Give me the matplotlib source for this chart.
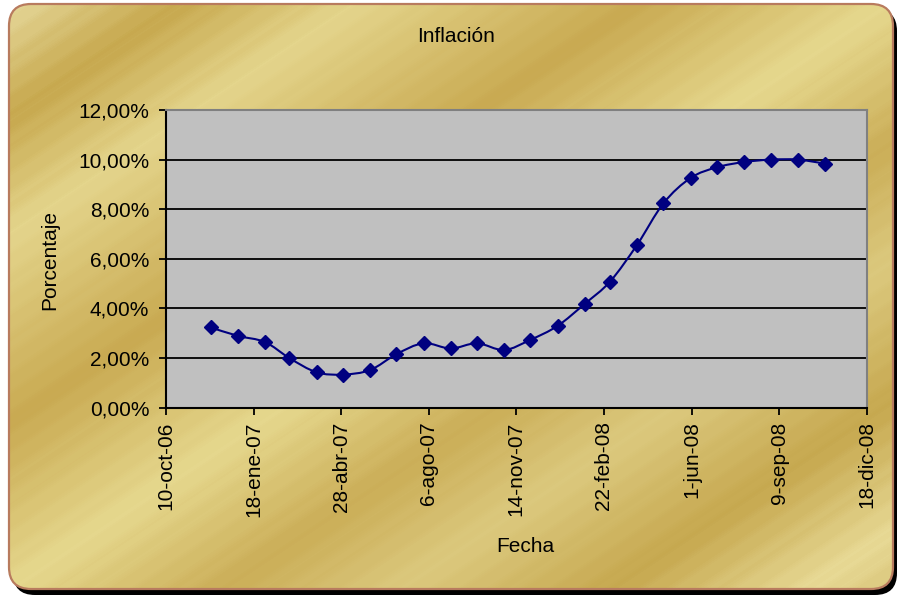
import datetime as dt
import numpy as np
import matplotlib
matplotlib.use('Agg')
import matplotlib.pyplot as plt
import matplotlib.dates as mdates
from matplotlib.patches import FancyBboxPatch, PathPatch
from matplotlib.path import Path
from matplotlib.ticker import FuncFormatter, MultipleLocator
from matplotlib.colors import LinearSegmentedColormap

plt.rcParams['font.family'] = ['Liberation Sans', 'DejaVu Sans']

# inflacion mensual (%)
fechas = ['2006-11-30', '2006-12-31', '2007-01-31', '2007-02-28', '2007-03-31', '2007-04-30',
          '2007-05-31', '2007-06-30', '2007-07-31', '2007-08-31', '2007-09-30', '2007-10-31',
          '2007-11-30', '2007-12-31', '2008-01-31', '2008-02-29', '2008-03-31', '2008-04-30',
          '2008-05-31', '2008-06-30', '2008-07-31', '2008-08-31', '2008-09-30', '2008-10-31']
inflacion = [3.23, 2.89, 2.64, 1.99, 1.42, 1.33, 1.51, 2.15, 2.59, 2.38, 2.59, 2.32,
             2.73, 3.29, 4.18, 5.08, 6.57, 8.24, 9.26, 9.69, 9.90, 10.00, 10.00, 9.84]
meses = ['ene', 'feb', 'mar', 'abr', 'may', 'jun', 'jul', 'ago', 'sep', 'oct', 'nov', 'dic']
fecha_ini = dt.date(2006, 10, 10)
fecha_fin = dt.date(2008, 12, 18)

W, H = 897, 596
fig = plt.figure(figsize=(W / 100, H / 100), dpi=100)
fig.patch.set_facecolor('white')

# fondo dorado con borde redondeado y sombra
bg = fig.add_axes([0, 0, 1, 1], zorder=-10)
bg.set_xlim(0, W)
bg.set_ylim(H, 0)
bg.axis('off')

sombra = FancyBboxPatch((13, 9), 884, 586, boxstyle='round,pad=0,rounding_size=22',
                        facecolor='black', edgecolor='none', zorder=0)
bg.add_patch(sombra)

gx, gy = np.meshgrid(np.arange(W), np.arange(H))
s = (gx + 1.5 * gy) / (W + 1.5 * H)
s = np.clip(s + 0.004 * np.sin(2 * np.pi * s * 60), 0, 1)   # vetas finas del metal
oro = LinearSegmentedColormap.from_list('oro', [
    (0.00, '#E8DCA0'), (0.10, '#C7A84E'), (0.20, '#E4D58C'), (0.36, '#C9AA52'),
    (0.50, '#E6D88E'), (0.62, '#CBAE58'), (0.72, '#DCC97E'), (0.84, '#C6A84F'),
    (0.95, '#E8DA96'), (1.00, '#D9C478')])
img = bg.imshow(s, cmap=oro, extent=(0, W, H, 0), aspect='auto',
                interpolation='bilinear', zorder=1)

marco = FancyBboxPatch((9, 4), 884, 585, boxstyle='round,pad=0,rounding_size=22',
                       facecolor='none', edgecolor='#B87B5E', linewidth=1.6, zorder=2)
bg.add_patch(marco)
img.set_clip_path(marco)

# area del grafico
ax = fig.add_axes([166 / W, 1 - 407.5 / H, 700.7 / W, 297.5 / H])
ax.set_facecolor('#C0C0C0')

x = mdates.date2num([dt.date.fromisoformat(f) for f in fechas])
y = np.array(inflacion)

# linea suavizada (bezier tipo catmull-rom)
verts = [(x[0], y[0])]
codes = [Path.MOVETO]
n = len(x)
for i in range(n - 1):
    a = max(i - 1, 0)
    b = min(i + 2, n - 1)
    c1 = (x[i] + (x[i + 1] - x[a]) / 6, y[i] + (y[i + 1] - y[a]) / 6)
    c2 = (x[i + 1] - (x[b] - x[i]) / 6, y[i + 1] - (y[b] - y[i]) / 6)
    verts += [c1, c2, (x[i + 1], y[i + 1])]
    codes += [Path.CURVE4] * 3
ax.add_patch(PathPatch(Path(verts, codes), facecolor='none', edgecolor='#000080',
                       linewidth=1.5, zorder=3))
ax.plot(x, y, linestyle='none', marker='D', markersize=6.8, color='#000080', zorder=4)

x0 = mdates.date2num(fecha_ini)
ax.set_xlim(x0, mdates.date2num(fecha_fin))
ax.set_ylim(0, 12)
ax.set_xticks([x0 + 100 * k for k in range(9)])
ax.yaxis.set_major_locator(MultipleLocator(2))


def fmt_fecha(v, pos):
    d = mdates.num2date(v)
    return f'{d.day}-{meses[d.month - 1]}-{d.year % 100:02d}'


ax.xaxis.set_major_formatter(FuncFormatter(fmt_fecha))
ax.yaxis.set_major_formatter(FuncFormatter(lambda v, p: f'{v:.2f}'.replace('.', ',') + '%'))
ax.grid(axis='y', color='black', linewidth=1.3)
ax.set_axisbelow(True)

for lado in ['top', 'right']:
    ax.spines[lado].set_color('#808080')
    ax.spines[lado].set_linewidth(1.5)
for lado in ['left', 'bottom']:
    ax.spines[lado].set_color('black')
    ax.spines[lado].set_linewidth(1.5)

ax.tick_params(axis='both', direction='out', length=5, width=1.3, labelsize=15, colors='black')
ax.tick_params(axis='x', rotation=90, pad=5)
ax.tick_params(axis='y', pad=7)

fig.text(456 / W, 1 - 36 / H, 'Inflación', ha='center', va='center', fontsize=15)
fig.text(50 / W, 1 - 260 / H, 'Porcentaje', ha='center', va='center', rotation=90, fontsize=15)
fig.text(525 / W, 1 - 547 / H, 'Fecha', ha='center', va='center', fontsize=15)

fig.savefig('out.png', dpi=100)
